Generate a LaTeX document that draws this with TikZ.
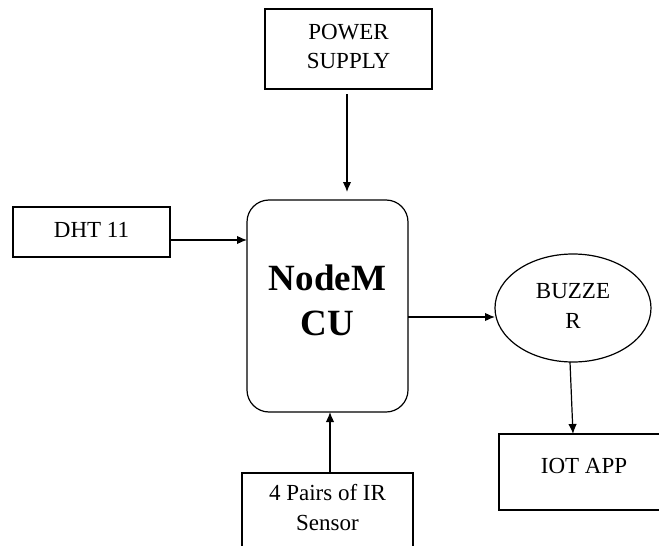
\documentclass[tikz,border=0pt]{standalone}
\usepackage{fontspec}
\setmainfont{Liberation Serif}
\usetikzlibrary{arrows.meta,shapes.geometric}
\begin{document}
\begin{tikzpicture}[x=1pt,y=-1pt,
  every node/.style={inner sep=0pt,outer sep=0pt},
  box/.style={draw,line width=1.2pt,align=center,font=\fontsize{23}{29}\selectfont},
  mcubox/.style={draw,line width=1.2pt,rounded corners=22pt,align=center,
    font=\fontsize{37}{45}\selectfont\bfseries},
  oval/.style={draw,line width=1.2pt,ellipse,align=center,font=\fontsize{23}{30}\selectfont},
  arr/.style={line width=1.2pt,-{Latex[length=10pt,width=8.5pt]}}]
\useasboundingbox (0,0) rectangle (659,546);
\clip (0,0) rectangle (659,546);
\node[box,minimum width=167pt,minimum height=80pt,text depth=6pt] (ps) at (348.5,49) {POWER\\SUPPLY};
\node[box,minimum width=157pt,minimum height=50pt,text depth=5pt] (dht) at (91.5,232) {DHT 11};
\node[mcubox,minimum width=161pt,minimum height=212pt,text depth=12pt] (mcu) at (327.5,306) {NodeM\\CU};
\node[oval,minimum width=156pt,minimum height=108pt,text depth=5pt] (bz) at (573,308) {BUZZE\\R};
\node[box,minimum width=170pt,minimum height=76pt,text depth=13pt] (iot) at (584,472) {IOT APP};
\node[box,font=\fontsize{23}{30}\selectfont,minimum width=171pt,minimum height=84pt,text depth=15.7pt] (ir) at (327.5,515) {4 Pairs of IR\\Sensor};
\draw[arr,shorten <=5pt,shorten >=8pt] ([xshift=-1.5pt]ps.south) -- ([xshift=-1.5pt]ps.south |- mcu.north);
\draw[arr] ([yshift=-8pt]dht.east) -- ([yshift=-8pt]dht.east -| mcu.west);
\draw[arr] ([yshift=-11pt]mcu.east) -- ([yshift=-11pt]mcu.east -| bz.west);
\draw[arr] ([xshift=-3pt]bz.south) -- ([xshift=-11pt]iot.north);
\draw[arr] ([xshift=2.5pt]ir.north) -- ([xshift=2.5pt]ir.north |- mcu.south);
\end{tikzpicture}
\end{document}
